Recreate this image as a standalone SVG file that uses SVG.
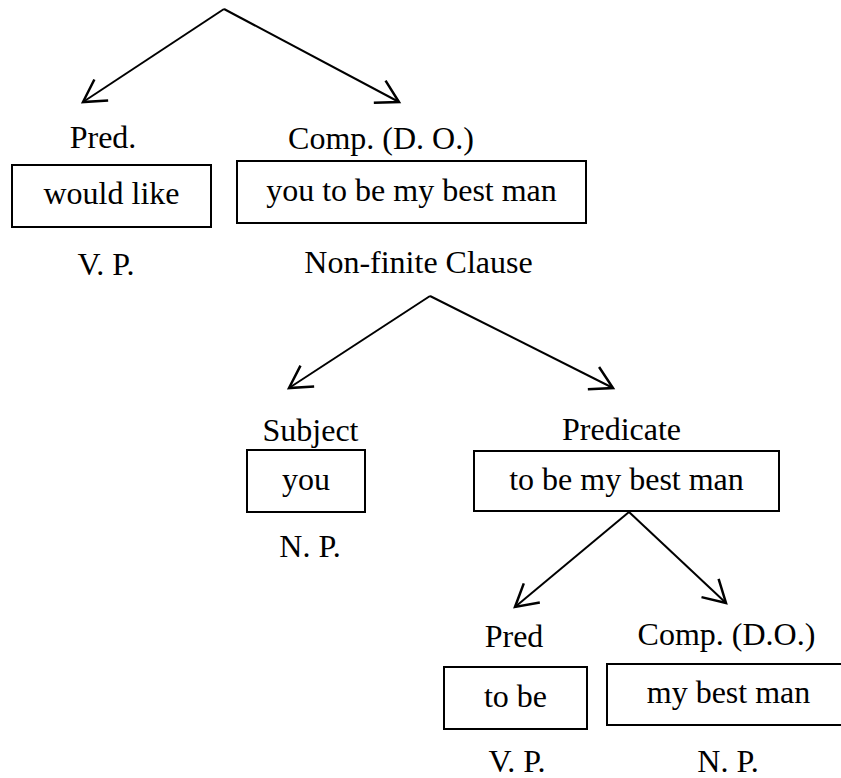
<svg xmlns="http://www.w3.org/2000/svg" width="841" height="778" viewBox="0 0 841 778">
<defs>
<style>
text{font-family:"Liberation Serif","Times New Roman",serif;font-size:32px;fill:#000;text-anchor:middle}
.box{fill:#fff;stroke:#000;stroke-width:2}
.edge{stroke:#000;stroke-width:2;fill:none;marker-end:url(#ah)}
</style>
<marker id="ah" markerUnits="userSpaceOnUse" markerWidth="30" markerHeight="30" viewBox="-20 -12 22 24" refX="0" refY="0" orient="auto">
<path d="M-17.5,-10 L0,0 L-17.5,10" fill="none" stroke="#000" stroke-width="2"/>
</marker>
</defs>
<rect width="841" height="778" fill="#fff"/>
<g id="connectors">
<line class="edge" x1="224" y1="9" x2="83" y2="102"/>
<line class="edge" x1="224" y1="9" x2="399" y2="102"/>
<line class="edge" x1="430" y1="296" x2="289" y2="388"/>
<line class="edge" x1="430" y1="296" x2="613" y2="388"/>
<line class="edge" x1="629" y1="512" x2="515" y2="607"/>
<line class="edge" x1="629" y1="512" x2="726" y2="603"/>
</g>
<g id="pred1">
<text x="103" y="148">Pred.</text>
<rect class="box" x="12" y="165" width="199" height="62"/>
<text x="111.5" y="204">would like</text>
<text x="106" y="275">V. P.</text>
</g>
<g id="comp1">
<text x="381" y="149">Comp. (D. O.)</text>
<rect class="box" x="237" y="161" width="349" height="62"/>
<text x="411.5" y="201">you to be my best man</text>
<text x="418.5" y="273">Non-finite Clause</text>
</g>
<g id="subject">
<text x="310.5" y="441">Subject</text>
<rect class="box" x="247" y="450" width="118" height="62"/>
<text x="306" y="490">you</text>
<text x="310" y="557">N. P.</text>
</g>
<g id="predicate">
<text x="621.5" y="440">Predicate</text>
<rect class="box" x="474" y="451" width="305" height="60"/>
<text x="626.5" y="490">to be my best man</text>
</g>
<g id="pred2">
<text x="514" y="647">Pred</text>
<rect class="box" x="444" y="667" width="143" height="62"/>
<text x="515.5" y="707">to be</text>
<text x="517" y="772">V. P.</text>
</g>
<g id="comp2">
<text x="726.5" y="645">Comp. (D.O.)</text>
<rect class="box" x="607" y="664" width="240" height="61"/>
<text x="728.5" y="703">my best man</text>
<text x="728" y="772">N. P.</text>
</g>
</svg>
